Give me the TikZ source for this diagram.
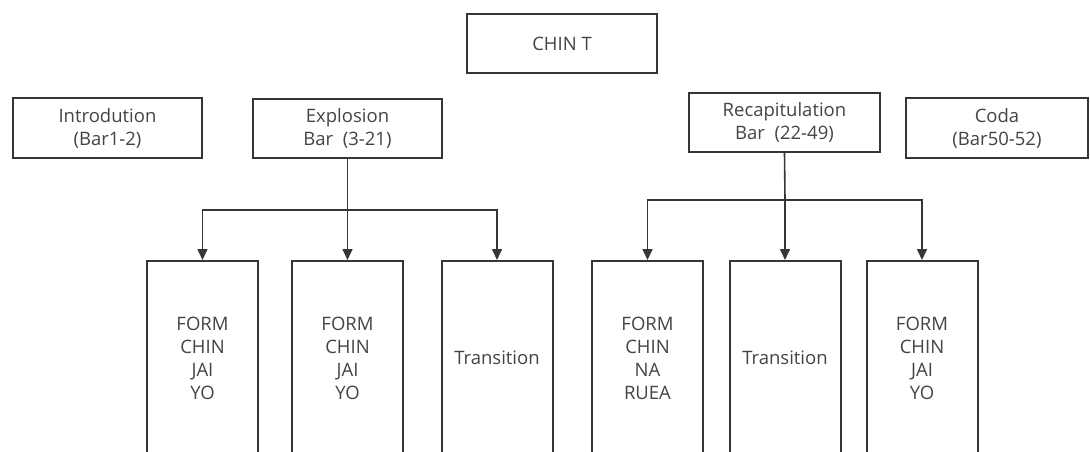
\documentclass[tikz,border=0pt]{standalone}
\usepackage{fontspec}
\setmainfont{Open Sans}
\usetikzlibrary{arrows.meta}
\definecolor{edge}{HTML}{363636}
\definecolor{txt}{HTML}{444444}
\tikzset{
  box/.style={draw=edge, line width=2pt, text=txt, align=center, inner sep=0pt,
    font=\fontsize{18.5}{23}\selectfont},
  tall/.style={box, minimum width=111pt, minimum height=194pt},
  conn/.style={draw=edge, line width=1.6pt},
  arr/.style={conn, -{Triangle[length=11pt,width=10pt]}}
}
\begin{document}
\begin{tikzpicture}[x=1pt,y=-1pt]
\clip (0,0) rectangle (1090,452);
\fill[white] (0,0) rectangle (1090,452);
\node[box, minimum width=190pt, minimum height=59pt] (chin) at (562,43.5) {CHIN T};
\node[box, minimum width=189pt, minimum height=60pt] (intro) at (107.5,128) {Introdution\\(Bar1-2)};
\node[box, minimum width=189pt, minimum height=59pt] (expl) at (347.5,128.5) {Explosion\\Bar\ \ (3-21)};
\node[box, minimum width=191pt, minimum height=59pt] (recap) at (784.5,122.5) {Recapitulation\\Bar\ \ (22-49)};
\node[box, minimum width=182pt, minimum height=60pt] (coda) at (997,128) {Coda\\(Bar50-52)};
\node[tall] (b1) at (202.5,358) {FORM\\CHIN\\JAI\\YO};
\node[tall] (b2) at (347.5,358) {FORM\\CHIN\\JAI\\YO};
\node[tall] (b3) at (497,358) {Transition};
\node[tall] (b4) at (647.5,358) {FORM\\CHIN\\NA\\RUEA};
\node[tall] (b5) at (785,358) {Transition};
\node[tall] (b6) at (922,358) {FORM\\CHIN\\JAI\\YO};
\coordinate (ej) at (347.5,210);
\coordinate (rj) at (785,200);
\draw[conn] (expl.south) -- (ej);
\draw[arr] (ej) -- (b2.north);
\draw[arr] (ej) -| (b1.north);
\draw[arr] (ej) -| (b3.north);
\draw[conn] (recap.south) -- (rj);
\draw[arr] (rj) -- (b5.north);
\draw[arr] (rj) -| (b4.north);
\draw[arr] (rj) -| (b6.north);
\end{tikzpicture}
\end{document}
